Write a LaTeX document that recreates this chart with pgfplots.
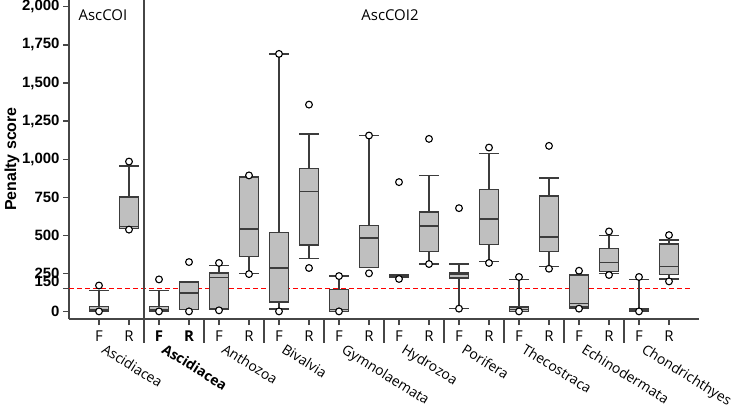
\documentclass[border=0pt]{standalone}
\usepackage{fontspec}
\setmainfont{Open Sans}
\newfontfamily\arialfont{Liberation Sans}
\usepackage{pgfplots}
\pgfplotsset{compat=1.18}

\definecolor{boxfill}{RGB}{191,191,191}
\definecolor{boxline}{RGB}{60,60,60}
\definecolor{axisgray}{RGB}{70,70,70}

\tikzset{
  taxon/.style={anchor=north west, rotate=-32, inner sep=0pt, font=\fontsize{14}{14}\selectfont},
}

% one box: position, lower whisker, lower quartile, median, upper quartile, upper whisker
\newcommand\bx[6]{%
  \pgfmathsetmacro\bxl{#1-0.31}\pgfmathsetmacro\bxr{#1+0.31}%
  \pgfmathsetmacro\bcl{#1-0.33}\pgfmathsetmacro\bcr{#1+0.33}%
  \addplot[draw=boxline, fill=boxfill, line width=1.4bp, line join=miter]
    coordinates {(\bcl,#6) (\bcr,#6) (#1,#6) (#1,#5) (\bxr,#5) (\bxr,#3) (#1,#3) (#1,#2)
                 (\bcl,#2) (\bcr,#2) (#1,#2) (#1,#3) (\bxl,#3) (\bxl,#5) (#1,#5) (#1,#6)};
  \addplot[draw=boxline, line width=1.4bp] coordinates {(\bxl,#4) (\bxr,#4)};
}

\begin{document}
\begin{tikzpicture}
\begin{axis}[
  scale only axis, width=630bp, height=319bp,
  xmin=0, xmax=21, ymin=-50, ymax=2045,
  axis lines*=left,
  axis line style={-, draw=axisgray, line width=1.2bp},
  xtick={1,...,20},
  xticklabels={F,R,\textbf{F},\textbf{R},F,R,F,R,F,R,F,R,F,R,F,R,F,R,F,R},
  ytick={0,250,500,750,1000,1250,1500,1750,2000},
  yticklabels={0,250,500,750,{1,000},{1,250},{1,500},{1,750},{2,000}},
  extra y ticks={150},
  extra y tick labels={150},
  extra y tick style={yticklabel style={yshift=7bp}},
  tick align=outside, major tick length=6bp,
  tick style={draw=axisgray, line width=1.2bp},
  yticklabel style={font=\arialfont\bfseries\fontsize{15}{15}\selectfont},
  xticklabel style={font=\fontsize{15}{15}\selectfont, yshift=-2bp},
  clip=false,
]
\coordinate (bl) at (rel axis cs:0,0);

% threshold
\addplot[red, line width=1.2bp, dash pattern=on 5bp off 3bp] coordinates {(0,150) (20.7,150)};
% divider between the two markers, and group separators below the axis
\addplot[axisgray, line width=1.2bp] coordinates {(2.5,-207) (2.5,2045)};
\addplot[axisgray, line width=1.2bp] coordinates {(4.5,-50) (4.5,-207)};
\addplot[axisgray, line width=1.2bp] coordinates {(6.5,-50) (6.5,-207)};
\addplot[axisgray, line width=1.2bp] coordinates {(8.5,-50) (8.5,-207)};
\addplot[axisgray, line width=1.2bp] coordinates {(10.5,-50) (10.5,-207)};
\addplot[axisgray, line width=1.2bp] coordinates {(12.5,-50) (12.5,-207)};
\addplot[axisgray, line width=1.2bp] coordinates {(14.5,-50) (14.5,-207)};
\addplot[axisgray, line width=1.2bp] coordinates {(16.5,-50) (16.5,-207)};
\addplot[axisgray, line width=1.2bp] coordinates {(18.5,-50) (18.5,-207)};

% AscCOI: Ascidiacea F, R
\bx{1}{0}{2}{14}{32}{138}
\bx{2}{545}{545}{556}{751}{956}
% AscCOI2: Ascidiacea
\bx{3}{0}{2}{14}{32}{138}
\bx{4}{12}{12}{121}{193}{193}
% Anthozoa
\bx{5}{16}{16}{223}{252}{300}
\bx{6}{247}{361}{541}{882}{882}
% Bivalvia
\bx{7}{16}{62}{285}{518}{1691}
\bx{8}{348}{436}{787}{938}{1166}
% Gymnolaemata
\bx{9}{0}{0}{11}{142}{232}
\bx{10}{289}{289}{481}{565}{1155}
% Hydrozoa
\bx{11}{221}{221}{232}{243}{243}
\bx{12}{311}{392}{562}{652}{893}
% Porifera
\bx{13}{18}{219}{245}{252}{311}
\bx{14}{328}{440}{606}{801}{1037}
% Thecostraca
\bx{15}{0}{0}{11}{29}{210}
\bx{16}{295}{392}{488}{757}{877}
% Echinodermata
\bx{17}{20}{29}{51}{236}{243}
\bx{18}{247}{261}{322}{413}{497}
% Chondrichthyes
\bx{19}{0}{0}{9}{18}{210}
\bx{20}{213}{241}{293}{442}{470}

% extreme values
\addplot[only marks, mark=*, mark size=3.4bp, mark options={fill=white, draw=black, line width=1.1bp}]
  coordinates {
  (1,170) (1,0) (2,984) (2,537)
  (3,210) (3,0) (4,324) (4,0)
  (5,318) (5,7) (6,893) (6,245)
  (7,1691) (7,0) (8,1358) (8,285)
  (9,232) (9,0) (10,1155) (10,250)
  (11,849) (11,213) (12,1133) (12,311)
  (13,678) (13,18) (14,1076) (14,318)
  (15,226) (15,0) (16,1087) (16,280)
  (17,267) (17,18) (18,525) (18,239)
  (19,226) (19,0) (20,501) (20,197)
  };

% marker names
\node[font=\fontsize{15}{15}\selectfont] at (axis cs:1.13,1947) {AscCOI};
\node[font=\fontsize{15}{15}\selectfont] at (axis cs:10.7,1947) {AscCOI2};

% taxon names
\node[taxon] at (axis cs:1.25,-207) {Ascidiacea};
\node[taxon] at (axis cs:3.25,-207) {\textbf{Ascidiacea}};
\node[taxon] at (axis cs:5.25,-207) {Anthozoa};
\node[taxon] at (axis cs:7.25,-207) {Bivalvia};
\node[taxon] at (axis cs:9.25,-207) {Gymnolaemata};
\node[taxon] at (axis cs:11.25,-207) {Hydrozoa};
\node[taxon] at (axis cs:13.25,-207) {Porifera};
\node[taxon] at (axis cs:15.25,-207) {Thecostraca};
\node[taxon] at (axis cs:17.25,-207) {Echinodermata};
\node[taxon] at (axis cs:19.25,-207) {Chondrichthyes};

\node[rotate=90, font=\arialfont\bfseries\fontsize{16}{16}\selectfont] at (axis cs:-1.9,1000) {Penalty score};
\end{axis}
\pgfresetboundingbox
\path (bl) ++(-69bp,-89bp) rectangle ++(736bp,408bp);
\end{tikzpicture}
\end{document}
